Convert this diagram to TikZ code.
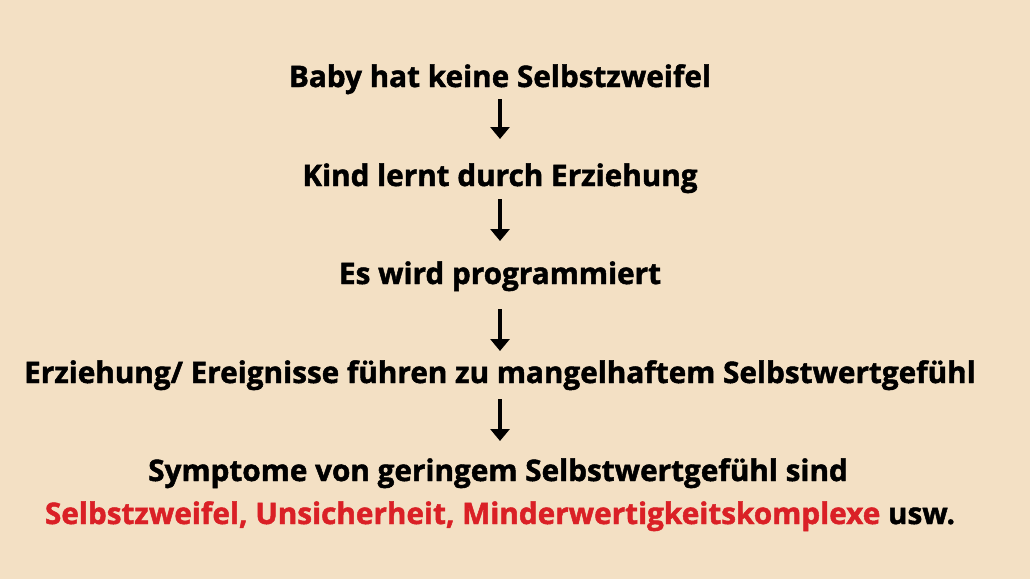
\documentclass[tikz,border=0pt]{standalone}
\usepackage{fontspec}
\setmainfont{Open Sans}[BoldFeatures={FakeBold=1.6}]
\usetikzlibrary{arrows.meta}
\definecolor{bg}{RGB}{243,224,196}
\definecolor{redtxt}{RGB}{218,32,38}
\begin{document}
\begin{tikzpicture}[x=1pt,y=-1pt,
  lbl/.style={font=\fontsize{29.7}{34}\selectfont\bfseries, text=black, inner sep=0pt, anchor=base},
  flow/.style={line width=3.8pt, -{Triangle[width=19pt,length=12pt]}, black}]
\fill[bg] (0,0) rectangle (1030,579);
\useasboundingbox (0,0) rectangle (1030,579);
\node[lbl] (n1) at (500,87) {Baby hat keine Selbstzweifel};
\node[lbl] (n2) at (500,186) {Kind lernt durch Erziehung};
\node[lbl] (n3) at (500,284) {Es wird programmiert};
\node[lbl] (n4) at (500,383) {Erziehung/ Ereignisse führen zu mangelhaftem Selbstwertgefühl};
\node[lbl] (n5) at (498,481) {Symptome von geringem Selbstwertgefühl sind};
\node[lbl] (n6) at (500,524) {\textcolor{redtxt}{Selbstzweifel, Unsicherheit, Minderwertigkeitskomplexe} usw.};
\coordinate (a1s) at (500,99); \coordinate (a1e) at (500,139);
\coordinate (a2s) at (500,199); \coordinate (a2e) at (500,241);
\coordinate (a3s) at (500,309); \coordinate (a3e) at (500,351);
\coordinate (a4s) at (500,399); \coordinate (a4e) at (500,441);
\draw[flow] (a1s) -- (a1e);
\draw[flow] (a2s) -- (a2e);
\draw[flow] (a3s) -- (a3e);
\draw[flow] (a4s) -- (a4e);
\end{tikzpicture}
\end{document}
